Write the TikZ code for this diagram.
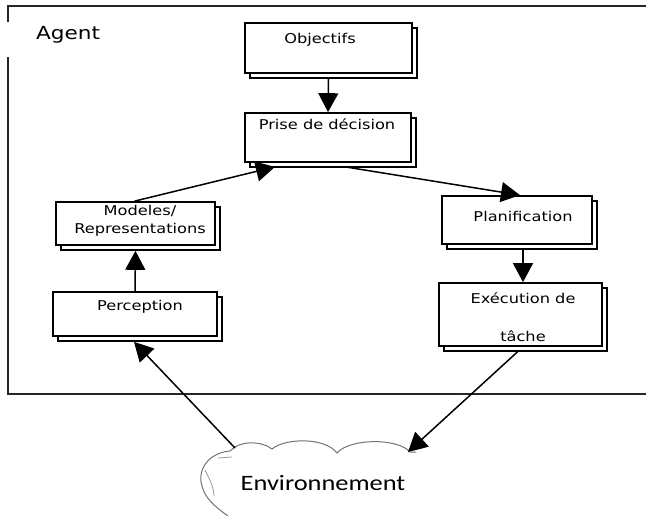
\documentclass[tikz,border=0pt]{standalone}
\usepackage{fontspec}
\usetikzlibrary{arrows.meta,shadows}
\newfontfamily\boxfont[FakeStretch=1.2]{DejaVu Sans}
\newfontfamily\envfont[FakeStretch=1.2]{Carlito}
\begin{document}
\begin{tikzpicture}[x=1pt,y=-1pt,
  block/.style={draw=black,line width=1.7pt,fill=white,inner sep=0pt,
    copy shadow={shadow xshift=5pt,shadow yshift=-5pt,draw=black,line width=1.7pt,fill=white}},
  lbl/.style={inner sep=0pt,align=center,font={\boxfont\fontsize{13.5}{18}\selectfont}},
  arr/.style={line width=1.5pt,-{Triangle[length=19pt,width=20pt]}},
  frame/.style={line width=2pt,draw=black!85}]
\useasboundingbox (0,0) rectangle (646,516);
\clip (0,0) rectangle (646,516);

% agent frame, open on the right
\draw[frame] (8,22) -- (8,6) -- (646,6);
\draw[frame] (8,57) -- (8,394) -- (646,394);
\node[inner sep=0pt,font={\boxfont\fontsize{18}{20}\selectfont}] (agent) at (68,35) {Agent};

% blocks
\node[block,minimum width=167pt,minimum height=50pt] (obj) at (328.5,48) {};
\node[lbl] (objt) at (320,40) {Objectifs};

\node[block,minimum width=166pt,minimum height=49pt] (dec) at (328,137.5) {};
\node[lbl] (dect) at (327,124) {Prise de décision};

\node[block,minimum width=159pt,minimum height=43pt] (mod) at (135.5,223.5) {};
\node[lbl] (modt) at (140,221) {Modeles/\\Representations};

\node[block,minimum width=164pt,minimum height=44pt] (per) at (135,314) {};
\node[lbl] (pert) at (140,307) {Perception};

\node[block,minimum width=150pt,minimum height=48pt] (pla) at (517,220) {};
\node[lbl] (plat) at (523,216) {Planification};

\node[block,minimum width=163pt,minimum height=63pt] (exe) at (520.5,314.5) {};
\node[lbl] (exet1) at (523,298) {Exécution de};
\node[lbl] (exet2) at (523,336) {tâche};

% environment cloud
\draw[line width=1pt,draw=black!55]
  (228,516) .. controls (214,506) and (205,498) .. (202,486)
  .. controls (197,470) and (208,453) .. (230,451)
  .. controls (240,440) and (262,441) .. (272,449)
  .. controls (285,438) and (325,437) .. (337,453)
  .. controls (350,438) and (398,438) .. (410,452)
  -- (416,452);
\draw[line width=0.7pt,draw=black!45] (218,458) -- (232,457);
\draw[line width=0.7pt,draw=black!45] (205,470) .. controls (210,480) and (214,488) .. (214,496);
\node[inner sep=0pt,font={\envfont\fontsize{22}{24}\selectfont}] (env) at (323,483) {Environnement};
\coordinate (envR) at (408,452);
\coordinate (envL) at (235,448);

% connectors
\draw[arr] ([yshift=-5pt]obj.south) -- (dec.north);
\draw[arr] (per.north) -- ([yshift=-5pt]mod.south);
\draw[arr] ([xshift=-1pt]mod.north) -- ([xshift=-53pt,yshift=-4pt]dec.south);
\draw[arr] ([xshift=17pt,yshift=-4pt]dec.south) -- ([xshift=3pt]pla.north);
\draw[arr] ([xshift=6pt,yshift=-5pt]pla.south) -- ([xshift=2.5pt]exe.north);
\draw[arr] ([xshift=-3pt,yshift=-5pt]exe.south) -- (envR);
\draw[arr] (envL) -- ([xshift=-1pt,yshift=-5pt]per.south);
\end{tikzpicture}
\end{document}
